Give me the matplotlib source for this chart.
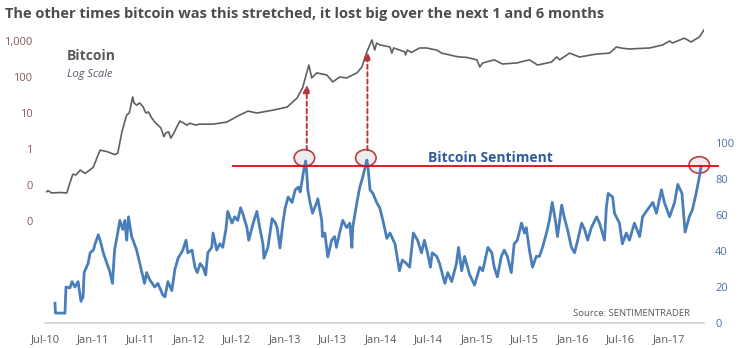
import matplotlib
matplotlib.use('Agg')
import matplotlib.pyplot as plt
import matplotlib.dates as mdates
from matplotlib.patches import Ellipse
import pandas as pd

plt.rcParams['font.family'] = ['Open Sans', 'DejaVu Sans']

# ---------------- data ----------------
btc_dates = ['2010-07-08', '2010-07-12', '2010-07-27', '2010-08-27', '2010-09-22', '2010-09-27',
             '2010-10-15', '2010-10-27', '2010-11-12', '2010-12-01', '2011-01-01', '2011-01-16',
             '2011-01-27', '2011-02-22', '2011-03-23', '2011-04-04', '2011-04-20', '2011-05-08',
             '2011-05-18', '2011-05-31', '2011-06-05', '2011-06-15', '2011-06-27', '2011-07-10',
             '2011-07-20', '2011-07-30', '2011-08-12', '2011-08-23', '2011-09-04', '2011-09-15',
             '2011-09-27', '2011-10-04', '2011-10-15', '2011-10-23', '2011-11-04', '2011-11-15',
             '2011-11-27', '2011-12-12', '2011-12-23', '2012-01-04', '2012-01-27', '2012-02-08',
             '2012-04-01', '2012-05-23', '2012-07-12',
             '2012-08-12', '2012-09-15', '2012-11-15', '2013-01-08', '2013-02-15', '2013-03-08',
             '2013-04-01', '2013-04-12', '2013-05-01', '2013-06-08', '2013-07-01', '2013-07-27',
             '2013-08-23', '2013-10-01', '2013-10-20', '2013-11-08', '2013-11-27', '2013-12-08',
             '2013-12-15', '2013-12-27', '2014-01-20', '2014-02-04', '2014-02-11', '2014-02-18',
             '2014-03-01', '2014-04-01', '2014-04-04', '2014-04-11', '2014-04-27', '2014-05-27',
             '2014-06-23', '2014-08-01', '2014-08-20', '2014-09-20', '2014-10-08', '2014-10-27',
             '2014-11-23', '2015-01-01', '2015-01-12', '2015-01-23', '2015-03-08', '2015-04-08',
             '2015-06-01', '2015-07-20', '2015-08-20', '2015-10-12', '2015-11-01', '2015-11-12',
             '2015-12-20', '2016-01-27', '2016-04-01', '2016-05-20', '2016-06-15', '2016-07-08',
             '2016-08-04', '2016-10-20', '2016-12-08', '2017-01-04', '2017-01-15', '2017-03-01',
             '2017-03-27', '2017-04-27', '2017-05-20']
btc_values = [0.065, 0.07, 0.06, 0.062, 0.06, 0.08,
              0.2, 0.19, 0.26, 0.21, 0.31, 0.6,
              0.93, 0.85, 0.7, 0.76, 3.0, 8.8,
              10, 28, 19, 16.6, 19, 14.7,
              10, 10.7, 7.2, 5.6, 4.6, 3.9,
              2.2, 2.8, 3.0, 2.0, 2.8, 4.1,
              6.0, 5.2, 4.6, 5.2, 4.6, 4.9,
              4.9, 5.6, 8.8,
              11.3, 10, 12, 14.6, 26, 50,
              215, 94, 130, 114, 73, 100,
              94, 130, 190, 500, 1070, 560,
              880, 780, 720, 680, 460, 640,
              600, 500, 410, 560, 480, 640,
              640, 560, 460, 410, 380, 360,
              350, 300, 190, 245, 300, 230,
              245, 300, 215, 260, 360, 300,
              460, 360, 435, 460, 680, 630,
              600, 640, 775, 1000, 880, 1200,
              940, 1290, 2300]

sent_dates = ['2010-08-08', '2010-08-10', '2010-08-27', '2010-09-15', '2010-09-19', '2010-10-04',
              '2010-10-12', '2010-10-23', '2010-11-04', '2010-11-15', '2010-11-23', '2010-11-27',
              '2010-12-12', '2010-12-20', '2011-01-01', '2011-01-08', '2011-01-20', '2011-01-27',
              '2011-02-08', '2011-02-22', '2011-03-04', '2011-03-15', '2011-03-23', '2011-04-04',
              '2011-04-12', '2011-04-23', '2011-05-01', '2011-05-08', '2011-05-15', '2011-05-27',
              '2011-06-15', '2011-06-27', '2011-07-15', '2011-07-23', '2011-08-04', '2011-08-23',
              '2011-09-04', '2011-09-23', '2011-10-01', '2011-10-12', '2011-10-27', '2011-11-08',
              '2011-11-20', '2011-12-08', '2011-12-20', '2011-12-27', '2012-01-12', '2012-01-23',
              '2012-02-01', '2012-02-12', '2012-02-23', '2012-03-04', '2012-03-12', '2012-03-27',
              '2012-04-01', '2012-04-15', '2012-04-27', '2012-05-08', '2012-05-20', '2012-05-27',
              '2012-06-12', '2012-06-23', '2012-07-04', '2012-07-15', '2012-07-23', '2012-08-08',
              '2012-08-15', '2012-09-01', '2012-09-15', '2012-09-27', '2012-10-08', '2012-10-12',
              '2012-10-27', '2012-11-12', '2012-11-23', '2012-12-01', '2012-12-12', '2012-12-23',
              '2013-01-01', '2013-01-12', '2013-01-27', '2013-02-08', '2013-02-20', '2013-02-27',
              '2013-03-08', '2013-03-15', '2013-03-20', '2013-03-24', '2013-03-28', '2013-04-04',
              '2013-04-15', '2013-05-01', '2013-05-05', '2013-05-20', '2013-05-23', '2013-06-01',
              '2013-06-12', '2013-06-27', '2013-07-08', '2013-07-15', '2013-07-27', '2013-08-08',
              '2013-08-23', '2013-09-04', '2013-09-12', '2013-09-15', '2013-10-01', '2013-10-12',
              '2013-10-23', '2013-11-08', '2013-11-12', '2013-11-20', '2013-12-01', '2013-12-15',
              '2013-12-27', '2014-01-08', '2014-01-23', '2014-02-04', '2014-02-23', '2014-03-12',
              '2014-03-23', '2014-04-08', '2014-04-20', '2014-05-04', '2014-05-20', '2014-06-04',
              '2014-06-15', '2014-06-27', '2014-07-08', '2014-07-15', '2014-08-01', '2014-08-12',
              '2014-09-01', '2014-09-12', '2014-09-27', '2014-10-15', '2014-10-23', '2014-11-04',
              '2014-11-15', '2014-12-04', '2014-12-23', '2015-01-12', '2015-01-23', '2015-02-12',
              '2015-02-27', '2015-03-08', '2015-03-20', '2015-04-04', '2015-04-15', '2015-04-27',
              '2015-05-12', '2015-05-23', '2015-06-04', '2015-06-20', '2015-07-01', '2015-07-08',
              '2015-07-20', '2015-08-01', '2015-08-15', '2015-08-27', '2015-09-08', '2015-09-23',
              '2015-10-04', '2015-10-15', '2015-10-27', '2015-11-04', '2015-11-20', '2015-12-01',
              '2015-12-12', '2015-12-27', '2016-01-08', '2016-01-20', '2016-02-04', '2016-02-15',
              '2016-02-27', '2016-03-12', '2016-04-01', '2016-04-12', '2016-04-23', '2016-05-01',
              '2016-05-08', '2016-05-15', '2016-06-01', '2016-06-08', '2016-06-27', '2016-07-08',
              '2016-07-23', '2016-08-04', '2016-08-23', '2016-09-12', '2016-09-23', '2016-10-12',
              '2016-11-01', '2016-11-15', '2016-12-04', '2016-12-15', '2017-01-04', '2017-01-23',
              '2017-02-04', '2017-02-20', '2017-02-27', '2017-03-04', '2017-03-20', '2017-04-01',
              '2017-04-15', '2017-04-27', '2017-05-04']
sent_values = [11, 5.5, 5.5, 5.5, 20, 19.5,
               23, 20, 23, 12, 14.5, 28,
               33, 39, 40.5, 44, 49, 46,
               39, 33, 29, 22, 40.5, 50,
               57, 52, 57, 46, 59, 48,
               40.5, 33, 22, 28, 24, 20,
               22, 15.5, 14.5, 23, 18, 30,
               36, 40.5, 46, 39, 40.5, 31,
               28, 33, 31, 26.7, 39, 42,
               50, 40.5, 44, 42, 52, 62,
               55.5, 59, 57, 64, 61, 53,
               46, 55.5, 62, 52, 44, 36,
               42, 58, 56, 53, 41.7, 55.5,
               64, 70, 67, 74, 75.5, 72.8,
               81, 87, 90, 83, 74, 68,
               61, 67, 69, 57, 48, 50,
               36.7, 46, 48, 42, 50, 57,
               53, 55.5, 42, 53, 67, 75.5,
               81, 90.5, 86.7, 74, 72, 67,
               64, 57, 47, 50, 44, 29,
               35, 33, 31, 50, 46, 39,
               46, 39, 31, 39, 37, 33,
               22, 28, 23, 33, 42, 29,
               37, 27, 21, 31, 29, 42,
               39, 31, 25.6, 37, 40.5, 37,
               28, 44, 46, 55.5, 50, 53,
               40.5, 31, 37, 37, 42, 50,
               57, 67, 57, 48, 65.5, 58,
               52, 42, 39, 46, 55.5, 52,
               46, 53, 59, 55.5, 50, 46,
               64, 72, 70, 61, 55.5, 44,
               50, 46, 55.5, 48, 59, 63,
               67, 61, 74, 67, 59, 67,
               77, 72, 59, 50.5, 59, 63,
               72, 81, 87]

x_tick_dates = ['2010-07-01', '2011-01-01', '2011-07-01', '2012-01-01', '2012-07-01', '2013-01-01',
                '2013-07-01', '2014-01-01', '2014-07-01', '2015-01-01', '2015-07-01', '2016-01-01',
                '2016-07-01', '2017-01-01']
left_ticks = [1000, 100, 10, 1, 0.1, 0.01]
left_tick_labels = ['1,000', '100', '10', '1', '0', '0']
right_ticks = [0, 20, 40, 60, 80, 100]
right_tick_labels = ['0', '20', '40', '60', '80', '100']

threshold = 87.2
circle_dates = ['2013-03-15', '2013-11-04', '2017-04-27']
circle_values = [91.7, 91.7, 87.8]
arrow_dates = ['2013-03-24', '2013-11-10']
arrow_btc = [60.0, 494.0]
arrow_start = 96.0

# ---------------- drawing ----------------
W, H = 739, 348
fig = plt.figure(figsize=(W / 100, H / 100), dpi=100)
L, R, T, B = 45, 704, 26, 323
ax_b = fig.add_axes([L / W, 1 - B / H, (R - L) / W, (B - T) / H])
ax_s = ax_b.twinx()

bd = mdates.date2num(pd.to_datetime(btc_dates))
sd = mdates.date2num(pd.to_datetime(sent_dates))

ax_b.plot(bd, btc_values, color='#606060', lw=1.2, zorder=3)
ax_b.set_yscale('log')
ax_b.set_ylim(1.47e-5, 2610)
ax_b.set_yticks(left_ticks)
ax_b.set_yticklabels(left_tick_labels)
ax_b.yaxis.set_minor_locator(matplotlib.ticker.NullLocator())

ax_s.plot(sd, sent_values, color='#4a7ebb', lw=2.0, zorder=3, solid_joinstyle='round')
ax_s.set_ylim(0, 165)
ax_s.set_yticks(right_ticks)
ax_s.set_yticklabels(right_tick_labels)

xmin = mdates.date2num(pd.Timestamp('2010-07-01'))
xmax = mdates.date2num(pd.Timestamp('2017-05-15'))
ax_b.set_xlim(xmin, xmax)
ax_b.set_xticks(mdates.date2num(pd.to_datetime(x_tick_dates)))
ax_b.xaxis.set_major_formatter(mdates.DateFormatter('%b-%y'))

for ax in (ax_b, ax_s):
    for s in ax.spines.values():
        s.set_visible(False)
    ax.tick_params(length=0)
ax_b.spines['bottom'].set_visible(True)
ax_b.spines['bottom'].set_color('#d0d0d0')
ax_b.spines['bottom'].set_linewidth(1.2)
ax_b.tick_params(axis='x', labelsize=8, colors='#595959', pad=8)
ax_b.tick_params(axis='y', labelsize=8, colors='#8a5a5a', pad=9)
ax_s.tick_params(axis='y', labelsize=8, colors='#4a6fa5', pad=8)

# threshold line
ax_s.plot(mdates.date2num(pd.to_datetime(['2012-06-15', '2017-07-08'])), [threshold, threshold],
          color='#e3060f', lw=1.3, clip_on=False, zorder=4)

# circles
for d, v in zip(circle_dates, circle_values):
    e = Ellipse((mdates.date2num(pd.Timestamp(d)), v), width=78, height=9.2,
                facecolor='#ebebeb', edgecolor='#b5292e', lw=1.2, alpha=0.9,
                zorder=2, clip_on=False)
    ax_s.add_patch(e)

# arrows
for d, v in zip(arrow_dates, arrow_btc):
    t = float(mdates.date2num(pd.Timestamp(d)))
    ax_s.annotate('', xy=(t, v), xycoords=ax_b.transData,
                  xytext=(t, arrow_start), textcoords=ax_s.transData,
                  arrowprops=dict(arrowstyle='-|>', color='#b5373a', lw=1.4,
                                  linestyle=(0, (2.2, 1.6)), mutation_scale=11,
                                  shrinkA=0, shrinkB=0), zorder=5)

# texts
fig.text(5 / W, 1 - 14 / H, 'The other times bitcoin was this stretched, it lost big over the next 1 and 6 months',
         fontsize=10.5, fontweight='bold', color='#4d4d4d', va='center', ha='left')
fig.text(67 / W, 1 - 56 / H, 'Bitcoin', fontsize=10, fontweight='bold', color='#5a5a5a', va='center')
fig.text(67 / W, 1 - 74 / H, 'Log Scale', fontsize=8, style='italic', color='#5a5a6a', va='center')
fig.text(490 / W, 1 - 158 / H, 'Bitcoin Sentiment', fontsize=10, fontweight='bold', color='#2f5d9a',
         va='center', ha='center')
fig.text(690 / W, 1 - 313 / H, 'Source: SENTIMENTRADER', fontsize=6.8, color='#595959',
         va='center', ha='right')

fig.savefig('out.png', dpi=100)
